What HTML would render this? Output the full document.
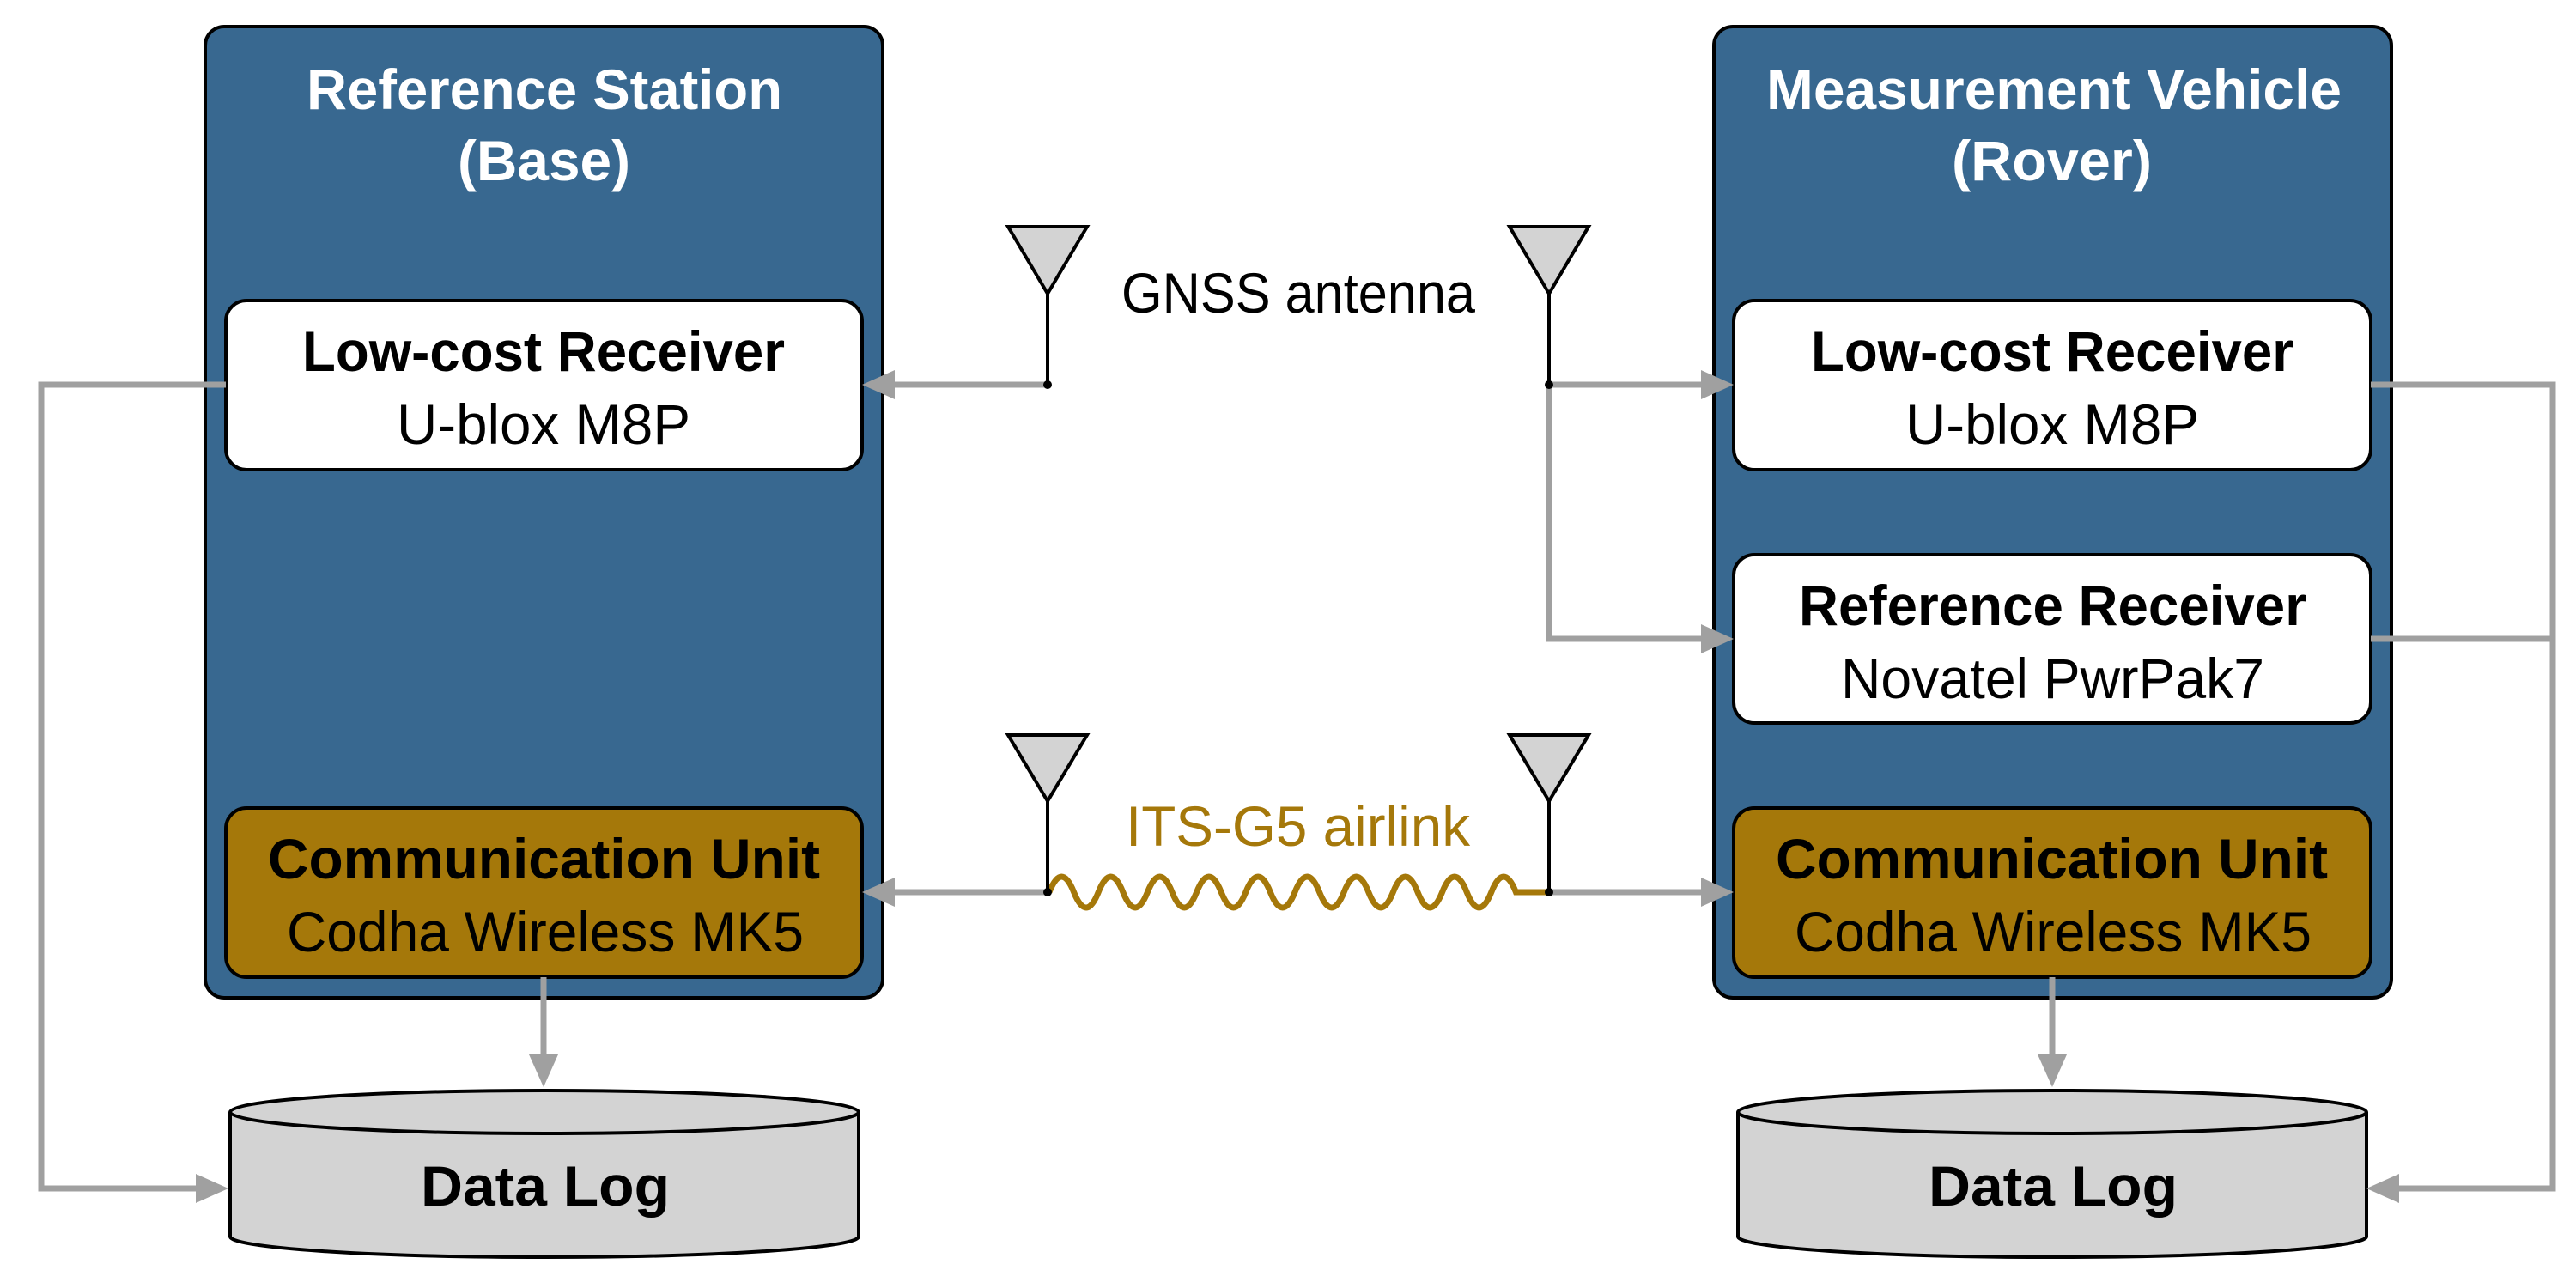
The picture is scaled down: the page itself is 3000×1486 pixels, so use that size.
<!DOCTYPE html>
<html><head><meta charset="utf-8"><style>html,body{margin:0;padding:0;background:#fff}svg{display:block}</style></head>
<body>
<svg width="3000" height="1486" viewBox="0 0 3000 1486" xmlns="http://www.w3.org/2000/svg" font-family="Liberation Sans, sans-serif" font-size="66">
<!-- panels -->
<rect x="239" y="31" width="789" height="1131" rx="22" fill="#386890" stroke="#000" stroke-width="4"/>
<rect x="1996" y="31" width="789" height="1131" rx="22" fill="#386890" stroke="#000" stroke-width="4"/>
<g font-weight="bold" fill="#fff" text-anchor="start">
<text x="357" y="127" textLength="554" lengthAdjust="spacingAndGlyphs">Reference Station</text>
<text x="533" y="210" textLength="201" lengthAdjust="spacingAndGlyphs">(Base)</text>
<text x="2057" y="127" textLength="670" lengthAdjust="spacingAndGlyphs">Measurement Vehicle</text>
<text x="2273" y="210" textLength="233" lengthAdjust="spacingAndGlyphs">(Rover)</text>
</g>
<!-- boxes -->
<g stroke="#000" stroke-width="4">
<rect x="263" y="350" width="741" height="197" rx="24" fill="#fff"/>
<rect x="263" y="941" width="741" height="197" rx="24" fill="#a5780a"/>
<rect x="2019" y="350" width="742" height="197" rx="24" fill="#fff"/>
<rect x="2019" y="646" width="742" height="196" rx="24" fill="#fff"/>
<rect x="2019" y="941" width="742" height="197" rx="24" fill="#a5780a"/>
</g>
<g fill="#000">
<text x="352" y="432" font-weight="bold" textLength="562" lengthAdjust="spacingAndGlyphs">Low-cost Receiver</text>
<text x="462" y="517" textLength="342" lengthAdjust="spacingAndGlyphs">U-blox M8P</text>
<text x="312" y="1023" font-weight="bold" textLength="643" lengthAdjust="spacingAndGlyphs">Communication Unit</text>
<text x="334" y="1108" textLength="602" lengthAdjust="spacingAndGlyphs">Codha Wireless MK5</text>
<text x="2109" y="432" font-weight="bold" textLength="562" lengthAdjust="spacingAndGlyphs">Low-cost Receiver</text>
<text x="2219" y="517" textLength="342" lengthAdjust="spacingAndGlyphs">U-blox M8P</text>
<text x="2095" y="728" font-weight="bold" textLength="591" lengthAdjust="spacingAndGlyphs">Reference Receiver</text>
<text x="2144" y="813" textLength="493" lengthAdjust="spacingAndGlyphs">Novatel PwrPak7</text>
<text x="2068" y="1023" font-weight="bold" textLength="643" lengthAdjust="spacingAndGlyphs">Communication Unit</text>
<text x="2090" y="1108" textLength="602" lengthAdjust="spacingAndGlyphs">Codha Wireless MK5</text>
<text x="1306" y="364" textLength="412" lengthAdjust="spacingAndGlyphs">GNSS antenna</text>
</g>
<text x="1311" y="985" fill="#a5780a" textLength="401" lengthAdjust="spacingAndGlyphs">ITS-G5 airlink</text>
<!-- cylinders -->
<g stroke="#000" stroke-width="4" fill="#d3d3d3">
<path d="M268 1295 L268 1440 A366 24 0 0 0 1000 1440 L1000 1295"/>
<ellipse cx="634" cy="1295" rx="366" ry="25"/>
<path d="M2024 1295 L2024 1440 A366 24 0 0 0 2756 1440 L2756 1295"/>
<ellipse cx="2390" cy="1295" rx="366" ry="25"/>
</g>
<text x="490" y="1404" font-weight="bold" textLength="290" lengthAdjust="spacingAndGlyphs">Data Log</text>
<text x="2246" y="1404" font-weight="bold" textLength="290" lengthAdjust="spacingAndGlyphs">Data Log</text>
<!-- gray connectors -->
<g stroke="#a0a0a0" stroke-width="7" fill="none">
<path d="M1220 448 L1040 448"/>
<path d="M263 448 L48 448 L48 1384 L230 1384"/>
<path d="M1220 1039 L1040 1039"/>
<path d="M633 1138 L633 1228"/>
<path d="M1804 448 L1983 448"/>
<path d="M1804 448 L1804 744 L1983 744"/>
<path d="M1804 1039 L1983 1039"/>
<path d="M2390 1138 L2390 1228"/>
<path d="M2761 448 L2973 448 L2973 1384 L2792 1384"/>
<path d="M2761 744 L2973 744"/>
</g>
<g fill="#a0a0a0">
<polygon points="1004,448 1042,431 1042,465"/>
<polygon points="266,1384 228,1367 228,1401"/>
<polygon points="1004,1039 1042,1022 1042,1056"/>
<polygon points="633,1266 616,1228 650,1228"/>
<polygon points="2019,448 1981,431 1981,465"/>
<polygon points="2019,744 1981,727 1981,761"/>
<polygon points="2019,1039 1981,1022 1981,1056"/>
<polygon points="2390,1266 2373,1228 2407,1228"/>
<polygon points="2756,1384 2794,1367 2794,1401"/>
</g>
<!-- wave -->
<path d="M1222 1039 q14.3 -36 28.6 0 t28.6 0 t28.6 0 t28.6 0 t28.6 0 t28.6 0 t28.6 0 t28.6 0 t28.6 0 t28.6 0 t28.6 0 t28.6 0 t28.6 0 t28.6 0 t28.6 0 t28.6 0 t28.6 0 t28.6 0 t28.6 0 L1804 1039" stroke="#a5780a" stroke-width="7" fill="none"/>
<!-- antennas -->
<g stroke="#000" stroke-width="4" fill="#d3d3d3">
<line x1="1220" y1="342" x2="1220" y2="448"/>
<polygon points="1174,264 1266,264 1220,342"/>
<line x1="1804" y1="342" x2="1804" y2="448"/>
<polygon points="1758,264 1850,264 1804,342"/>
<line x1="1220" y1="933" x2="1220" y2="1039"/>
<polygon points="1174,856 1266,856 1220,933"/>
<line x1="1804" y1="933" x2="1804" y2="1039"/>
<polygon points="1758,856 1850,856 1804,933"/>
</g>
<g fill="#000"><circle cx="1220" cy="448" r="5"/><circle cx="1804" cy="448" r="5"/><circle cx="1220" cy="1039" r="5"/><circle cx="1804" cy="1039" r="5"/></g>
</svg>
</body></html>
